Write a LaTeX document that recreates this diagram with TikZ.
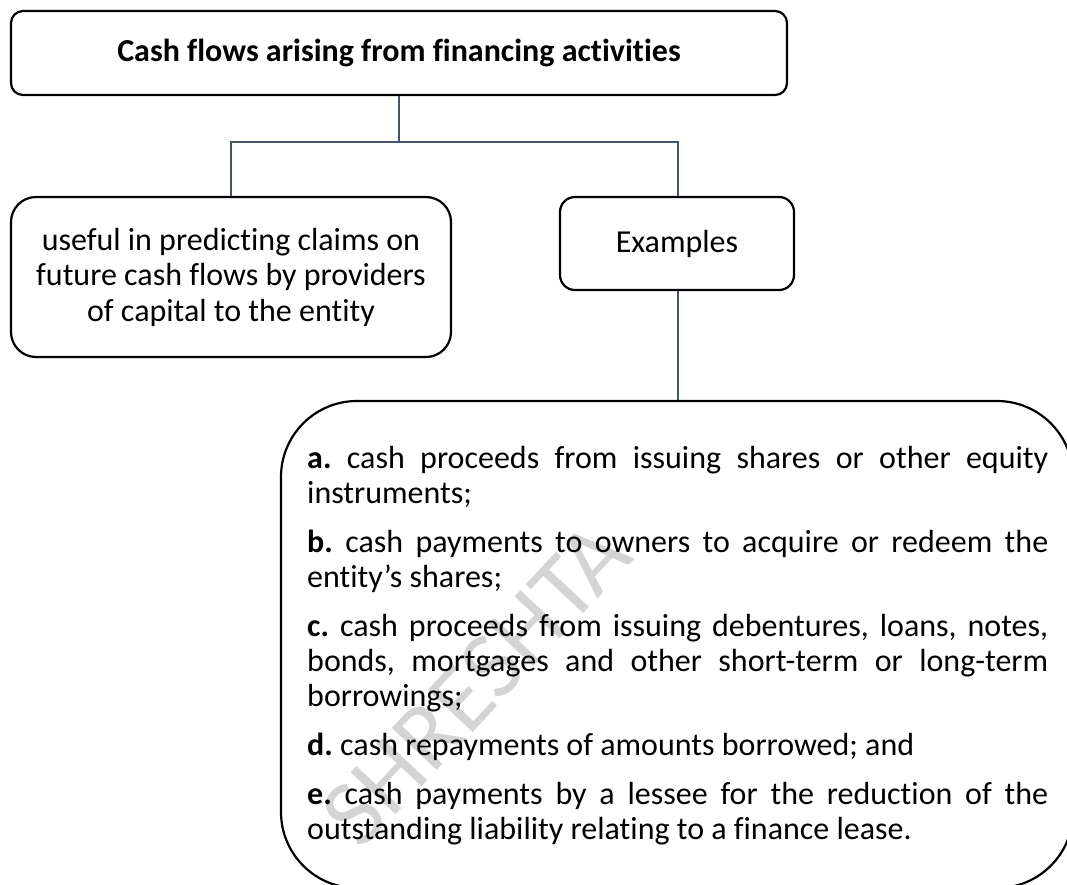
\documentclass[tikz,border=0pt]{standalone}
\usepackage{fontspec}
\setmainfont{Carlito}[Ligatures=NoCommon]
\usetikzlibrary{calc}
\definecolor{linkslate}{HTML}{44546A}
\begin{document}
\begin{tikzpicture}[x=1pt,y=-1pt,
  every node/.style={font=\fontsize{32}{35.5}\selectfont},
  frame/.style={draw=black, line width=2.2pt, inner sep=0pt, align=center},
  conn/.style={draw=linkslate, line width=2.6pt},
  markstyle/.style={text=black!17, rotate=47, inner sep=0pt,
    font=\fontsize{96}{96}\selectfont}]
\useasboundingbox (0,0) rectangle (1067,884);
\clip (0,0) rectangle (1067,884);

% boxes
\node[frame, rounded corners=12pt, minimum width=776pt, minimum height=84pt,
  font=\fontsize{32}{35.5}\selectfont\bfseries] (head) at (399,53)
  {Cash flows arising from financing activities};
\node[frame, rounded corners=25pt, minimum width=440pt, minimum height=160pt]
  (purpose) at (231,277)
  {useful in predicting claims on\\future cash flows by providers\\of capital to the entity};
\node[frame, rounded corners=15pt, minimum width=234pt, minimum height=93pt]
  (examples) at (677,243.5) {Examples};
\node[frame, rounded corners=76pt, minimum width=792pt, minimum height=487pt]
  (listbox) at (677,644.5) {};

% connectors
\coordinate (split) at (399,142);
\draw[conn] (head.south) -- (split);
\draw[conn] (split) -| (purpose.north);
\draw[conn] (split) -| ([xshift=1pt]examples.north);
\draw[conn] ([xshift=1pt]examples.south) -- ([xshift=1pt]listbox.north);

% watermark
\node[markstyle] (mark) at (476,684) {SHRESHTA};

% list of examples
\node[anchor=base west, inner sep=0pt] (items) at (307,468) {\parbox[t]{741pt}{%
  \fontsize{32}{35}\selectfont\frenchspacing
  \setlength{\parskip}{14pt}\hyphenpenalty=10000 \exhyphenpenalty=10000
  \textbf{a.} cash proceeds from issuing shares or other equity\linebreak
  instruments;\par
  \textbf{b.} cash payments to owners to acquire or redeem the\linebreak
  entity’s shares;\par
  \textbf{c.} cash proceeds from issuing debentures, loans, notes,\linebreak
  bonds, mortgages and other short-term or long-term\linebreak
  borrowings;\par
  \textbf{d.} cash repayments of amounts borrowed; and\par
  \textbf{e.} cash payments by a lessee for the reduction of the\linebreak
  outstanding liability relating to a finance lease.}};
\end{tikzpicture}
\end{document}
